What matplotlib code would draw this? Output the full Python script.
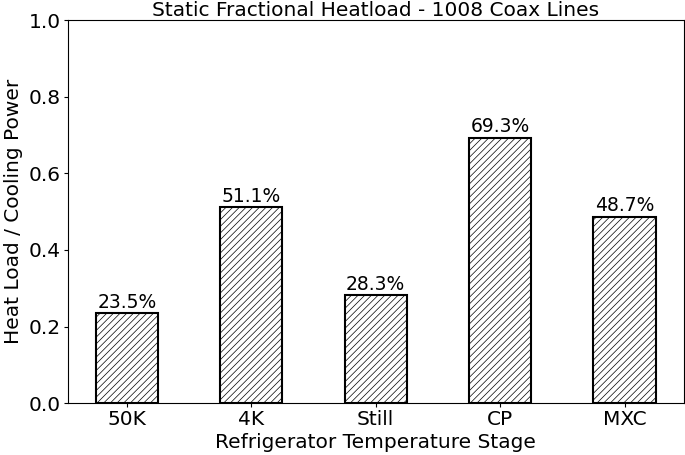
import matplotlib
matplotlib.use("Agg")
import matplotlib.pyplot as plt

stages = ["50K", "4K", "Still", "CP", "MXC"]
fractions = [0.235, 0.511, 0.283, 0.693, 0.487]
labels = ["23.5%", "51.1%", "28.3%", "69.3%", "48.7%"]

plt.rcParams["hatch.linewidth"] = 0.5
plt.rcParams["hatch.color"] = "#333333"

fig = plt.figure(figsize=(6.85, 4.55), dpi=100)
ax = fig.add_axes([0.099, 0.114, 0.899, 0.842])
bars = ax.bar(stages, fractions, width=0.5, color="white", edgecolor="black",
              hatch="/////", linewidth=1.5)
for b, lab in zip(bars, labels):
    ax.text(b.get_x() + b.get_width() / 2, b.get_height() + 0.003, lab,
            ha="center", va="bottom", fontsize=13.5)
ax.set_ylim(0, 1.0)
ax.set_title("Static Fractional Heatload - 1008 Coax Lines", fontsize=14.5, pad=1)
ax.set_xlabel("Refrigerator Temperature Stage", fontsize=14.5, labelpad=3)
ax.set_ylabel("Heat Load / Cooling Power", fontsize=14.5)
ax.tick_params(labelsize=14.5, length=3, pad=2)
fig.savefig("out.png", dpi=100)
